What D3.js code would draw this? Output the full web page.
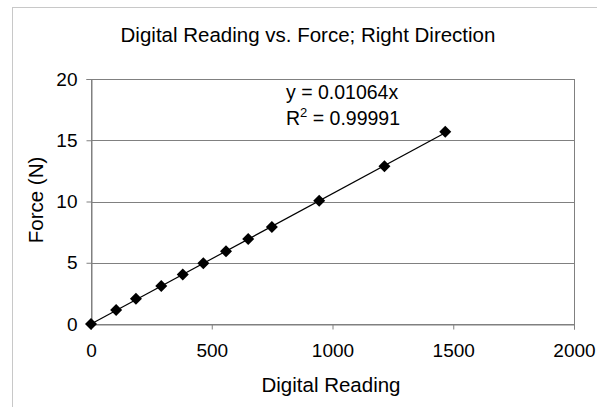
<!DOCTYPE html>
<html><head><meta charset="utf-8">
<script src="https://cdn.jsdelivr.net/npm/d3@7"></script>
<style>body{margin:0;background:#fff}svg{display:block;font-family:"Liberation Sans",Arial,sans-serif}</style>
</head><body><svg id="c" width="597" height="407"></svg>
<script>
const readings = [0, 104, 186, 291, 380, 465, 559, 651, 749, 945, 1215, 1467];
const forces = [0, 1.14, 2.07, 3.1, 4.05, 4.95, 5.93, 6.94, 7.92, 10.06, 12.87, 15.7];
const xTicks = [0, 500, 1000, 1500, 2000];
const yTicks = [0, 5, 10, 15, 20];
const slope = 0.01064;
const title = "Digital Reading vs. Force; Right Direction";
const xTitle = "Digital Reading";
const yTitle = "Force (N)";

const svg = d3.select("#c");
const L = 91, R = 574, T = 79, B = 324;
const x = d3.scaleLinear().domain([0, 2000]).range([L, R]);
const y = d3.scaleLinear().domain([0, 20]).range([B, T]);

svg.append("rect").attr("x", 12.5).attr("y", 7.5).attr("width", 700).attr("height", 500)
  .attr("fill", "none").attr("stroke", "#c8c8c8");

svg.append("text").attr("x", 308).attr("y", 42).attr("text-anchor", "middle")
  .attr("font-size", 20.5).attr("fill", "#000").text(title);

// gridlines
svg.append("g").selectAll("line").data(yTicks.filter(d => d > 0 && d < 20)).join("line")
  .attr("x1", L).attr("x2", R).attr("y1", d => Math.round(y(d)) + 0.5).attr("y2", d => Math.round(y(d)) + 0.5)
  .attr("stroke", "#808080");

svg.append("rect").attr("x", L + 0.5).attr("y", T + 0.5).attr("width", R - L).attr("height", B - T)
  .attr("fill", "none").attr("stroke", "#808080");

const xAxis = svg.append("g").attr("transform", `translate(0,${B + 0.5})`)
  .call(d3.axisBottom(x).tickValues(xTicks).tickSize(5).tickPadding(14).tickFormat(d3.format("d")));
const yAxis = svg.append("g").attr("transform", `translate(${L + 0.5},0)`)
  .call(d3.axisLeft(y).tickValues(yTicks).tickSize(5).tickPadding(9).tickFormat(d3.format("d")));
[xAxis, yAxis].forEach(g => {
  g.select(".domain").attr("stroke", "#808080");
  g.selectAll(".tick line").attr("stroke", "#808080");
  g.selectAll(".tick text").attr("font-size", 19).attr("fill", "#000")
   .attr("font-family", "Liberation Sans, Arial, sans-serif");
});

// trendline
const xmax = d3.max(readings);
svg.append("line").attr("x1", x(0)).attr("y1", y(0)).attr("x2", x(xmax)).attr("y2", y(slope * xmax))
  .attr("stroke", "#000").attr("stroke-width", 1.2);

const s = 6;
svg.append("g").selectAll("path").data(readings.map((r, i) => [r, forces[i]])).join("path")
  .attr("d", `M0,${-s}L${s},0L0,${s}L${-s},0Z`)
  .attr("transform", d => `translate(${x(d[0])},${y(d[1])})`)
  .attr("fill", "#000");

svg.append("text").attr("x", 286).attr("y", 99).attr("font-size", 19.5).text("y = 0.01064x");
const r2 = svg.append("text").attr("x", 286).attr("y", 125).attr("font-size", 19.5);
r2.append("tspan").text("R");
r2.append("tspan").attr("dy", -8).attr("font-size", 13).text("2");
r2.append("tspan").attr("dy", 8).text(" = 0.99991");

svg.append("text").attr("x", 331).attr("y", 392).attr("text-anchor", "middle")
  .attr("font-size", 20.5).text(xTitle);
svg.append("text").attr("transform", `translate(43,200) rotate(-90)`).attr("text-anchor", "middle")
  .attr("font-size", 20.5).text(yTitle);
</script></body></html>
